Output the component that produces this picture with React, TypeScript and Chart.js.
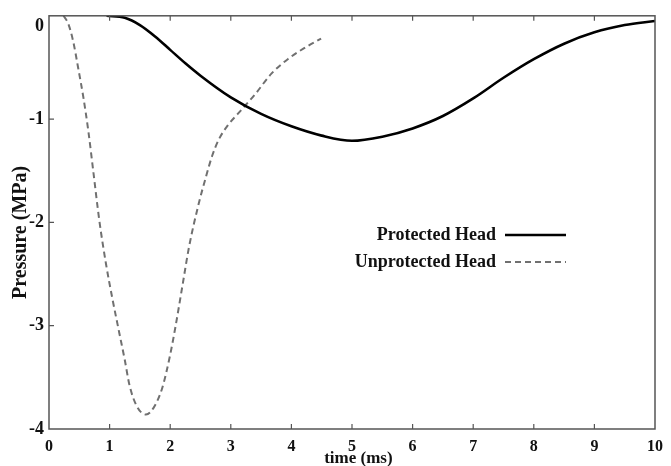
import React, { useEffect, useRef } from "react";
import { Chart, registerables } from "chart.js";

Chart.register(...registerables);

// Protected head (solid black)
const protectedTime = [0.95, 1.25, 1.5, 1.75, 2.0, 2.25, 2.5, 3.0, 3.5, 4.0, 4.5, 5.0, 5.5, 6.0, 6.5, 7.0, 7.5, 8.0, 8.5, 9.0, 9.5, 10.0];
const protectedPressure = [0, -0.02, -0.09, -0.2, -0.33, -0.46, -0.58, -0.79, -0.95, -1.07, -1.16, -1.21, -1.17, -1.09, -0.97, -0.8, -0.6, -0.42, -0.27, -0.16, -0.09, -0.05];

// Unprotected head (dashed grey)
const unprotectedTime = [0.24, 0.32, 0.4, 0.48, 0.57, 0.65, 0.74, 0.83, 0.94, 1.05, 1.16, 1.25, 1.33, 1.45, 1.6, 1.72, 1.87, 2.0, 2.09, 2.2, 2.31, 2.47, 2.58, 2.69, 2.8, 2.95, 3.13, 3.4, 3.67, 3.94, 4.22, 4.49];
const unprotectedPressure = [0, -0.08, -0.25, -0.5, -0.8, -1.12, -1.55, -1.98, -2.4, -2.75, -3.07, -3.33, -3.58, -3.78, -3.86, -3.8, -3.6, -3.28, -3.0, -2.62, -2.24, -1.82, -1.58, -1.36, -1.2, -1.06, -0.94, -0.76, -0.56, -0.42, -0.31, -0.22];

const seriesLabels = ["Protected Head", "Unprotected Head"];
const xTickValues = [0, 1, 2, 3, 4, 5, 6, 7, 8, 9, 10];
const yTickValues = [0, -1, -2, -3, -4];
const xTitle = "time (ms)";
const yTitle = "Pressure (MPa)";

const SERIF = "'Liberation Serif', 'Times New Roman', serif";

const framePlugin = {
  id: "frameAndLegend",
  afterDatasetsDraw(chart: any) {
    const { ctx, chartArea, scales } = chart;
    const { left, right, top, bottom } = chartArea;
    ctx.save();
    ctx.strokeStyle = "#555";
    ctx.lineWidth = 1.5;
    ctx.strokeRect(left, top, right - left, bottom - top);
    ctx.lineWidth = 1.2;
    ctx.beginPath();
    for (const v of xTickValues) {
      if (v === xTickValues[0] || v === xTickValues[xTickValues.length - 1]) continue;
      const px = scales.x.getPixelForValue(v);
      ctx.moveTo(px, bottom);
      ctx.lineTo(px, bottom - 5);
      ctx.moveTo(px, top);
      ctx.lineTo(px, top + 5);
    }
    for (const v of yTickValues) {
      if (v === yTickValues[0] || v === yTickValues[yTickValues.length - 1]) continue;
      const py = scales.y.getPixelForValue(v);
      ctx.moveTo(left, py);
      ctx.lineTo(left + 5, py);
    }
    ctx.stroke();

    // legend
    const ds = chart.data.datasets;
    const textRight = 496;
    const lineX0 = 505;
    const lineX1 = 566;
    const ys = [235, 262];
    ctx.font = `bold 18px ${SERIF}`;
    ctx.textAlign = "right";
    ctx.textBaseline = "middle";
    ctx.fillStyle = "#111";
    ds.forEach((d: any, i: number) => {
      ctx.fillText(d.label, textRight, ys[i]);
      ctx.strokeStyle = d.borderColor;
      ctx.lineWidth = d.borderWidth;
      ctx.setLineDash(d.borderDash || []);
      ctx.beginPath();
      ctx.moveTo(lineX0, ys[i]);
      ctx.lineTo(lineX1, ys[i]);
      ctx.stroke();
      ctx.setLineDash([]);
    });
    ctx.restore();
  },
};

export default function App() {
  const ref = useRef<HTMLCanvasElement | null>(null);

  useEffect(() => {
    if (!ref.current) return;
    const chart = new Chart(ref.current, {
      type: "line",
      data: {
        datasets: [
          {
            label: seriesLabels[0],
            data: protectedTime.map((t, i) => ({ x: t, y: protectedPressure[i] })),
            borderColor: "#000",
            borderWidth: 2.6,
            pointRadius: 0,
            cubicInterpolationMode: "monotone",
            fill: false,
          },
          {
            label: seriesLabels[1],
            data: unprotectedTime.map((t, i) => ({ x: t, y: unprotectedPressure[i] })),
            borderColor: "#707070",
            borderWidth: 2,
            borderDash: [6, 4],
            pointRadius: 0,
            cubicInterpolationMode: "monotone",
            fill: false,
          },
        ],
      },
      options: {
        responsive: false,
        animation: false,
        devicePixelRatio: 1,
        layout: { padding: { top: 15, right: 11, left: 0, bottom: 0 } },
        plugins: {
          legend: { display: false },
          tooltip: { enabled: false },
        },
        scales: {
          x: {
            type: "linear",
            min: 0,
            max: 10,
            afterFit: (s: any) => {
              s.height = 37;
            },
            afterBuildTicks: (s: any) => {
              s.ticks = xTickValues.map((v) => ({ value: v }));
            },
            grid: { display: false, drawTicks: false },
            border: { display: false },
            ticks: {
              padding: 8,
              color: "#111",
              font: { family: SERIF, size: 16, weight: "bold" },
              maxRotation: 0,
              autoSkip: false,
            },
            title: {
              display: true,
              text: "   " + xTitle,
              color: "#111",
              font: { family: SERIF, size: 17, weight: "bold" },
              padding: { top: 0, bottom: -3 },
            },
          },
          y: {
            type: "linear",
            min: -4,
            max: 0,
            afterFit: (s: any) => {
              s.width = 49;
            },
            afterBuildTicks: (s: any) => {
              s.ticks = yTickValues.map((v) => ({ value: v }));
            },
            grid: { display: false, drawTicks: false },
            border: { display: false },
            ticks: {
              padding: 5,
              color: "#111",
              font: { family: SERIF, size: 18, weight: "bold", lineHeight: 1.2 },
              autoSkip: false,
              callback: (v: any) => (v === 0 ? ["", "0"] : String(v)),
            },
            title: {
              display: true,
              text: yTitle + "    ",
              color: "#111",
              font: { family: SERIF, size: 20, weight: "bold" },
              padding: { top: 9, bottom: 0 },
            },
          },
        },
      },
      plugins: [framePlugin],
    } as any);
    return () => chart.destroy();
  }, []);

  return (
    <div style={{ position: "absolute", left: 0, top: 0, width: 671, height: 466, background: "#fff" }}>
      <canvas ref={ref} width={671} height={466} style={{ display: "block" }} />
    </div>
  );
}
